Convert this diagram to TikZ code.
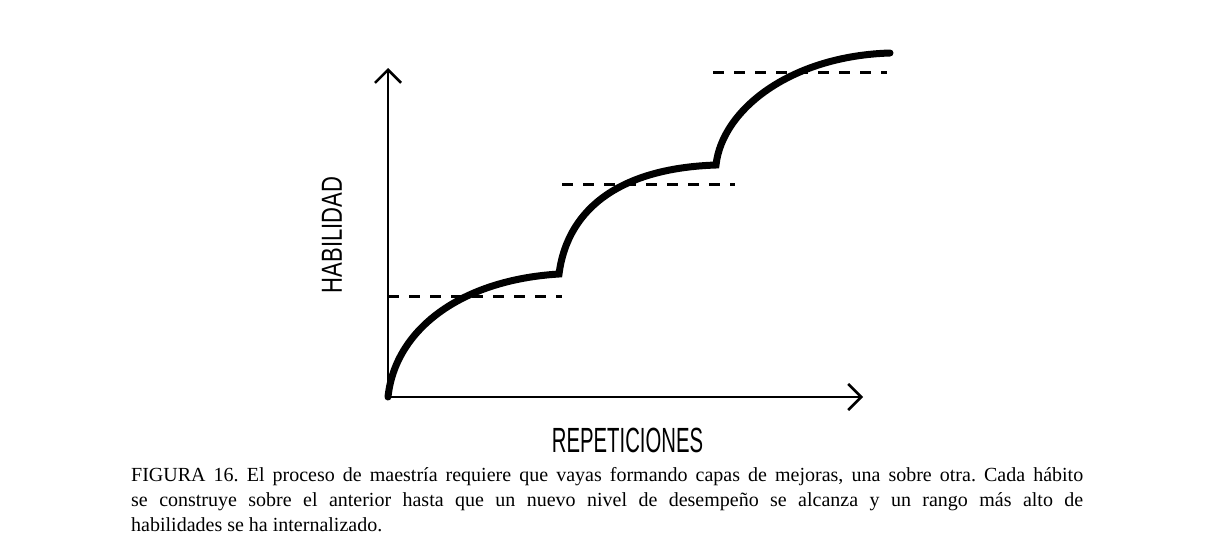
\documentclass[tikz,border=0pt]{standalone}
\usepackage{fontspec}
\setmainfont{Liberation Serif}
\newfontfamily\xaxisfont[FakeStretch=0.58]{Liberation Sans}
\newfontfamily\yaxisfont[FakeStretch=0.76]{Liberation Sans}
\usetikzlibrary{arrows.meta}
\usetikzlibrary{calc}
\usetikzlibrary{positioning}
\tikzset{
    axis line/.style={
        line width=2.6pt,
        >={Straight Barb[length=13pt,width=26pt]},
        <->,
    },
    skill curve/.style={
        line width=7pt,
        line cap=round,
        line join=miter,
    },
    level line/.style={
        line width=3pt,
        dash pattern=on 11pt off 10pt,
    },
    axis label/.style={
        inner sep=0,
    },
}

\begin{document}
\begin{tikzpicture}[x=1pt,y=-1pt]
    \useasboundingbox (0,0) rectangle (1218,552);

    % axes
    \coordinate (origin) at (388,397);
    \coordinate (ytip) at (388,68);
    \coordinate (xtip) at (863,397);
    \draw[axis line] (ytip) -- (origin) -- (xtip);

    % levels reached
    \foreach \lvl/\xa/\xb/\y in {1/388/562/296, 2/562/735/184, 3/713/887/72}
    {
        \coordinate (lvl\lvl w) at (\xa,\y);
        \coordinate (lvl\lvl e) at (\xb,\y);
        \draw[level line] (lvl\lvl w) -- (lvl\lvl e);
    }

    % skill curve
    \coordinate (kink1) at (559,274);
    \coordinate (kink2) at (716,165);
    \coordinate (top) at (890,53);
    \draw[skill curve] (origin) .. controls (395,330) and (460,280) .. (kink1)
        .. controls (568,205) and (625,168) .. (kink2)
        .. controls (722,110) and (790,56) .. (top);

    \node[axis label, rotate=90, font=\yaxisfont\fontsize{29}{29}\selectfont] (habilidad) at (332,235) {HABILIDAD};
    \node[axis label, font=\xaxisfont\fontsize{35}{35}\selectfont] (repeticiones) at (627.5,440.5) {REPETICIONES};

    \node[anchor=base west, inner sep=0, text width=952pt, align=justify, font=\fontsize{20}{25}\selectfont\frenchspacing] (caption) at (131,481.5)
        {FIGURA 16. El proceso de maestría requiere que vayas formando capas de mejoras, una sobre otra. Cada hábito\linebreak
        se construye sobre el anterior hasta que un nuevo nivel de desempeño se alcanza y un rango más alto de\linebreak
        habilidades se ha internalizado.};

\end{tikzpicture}
\end{document}
